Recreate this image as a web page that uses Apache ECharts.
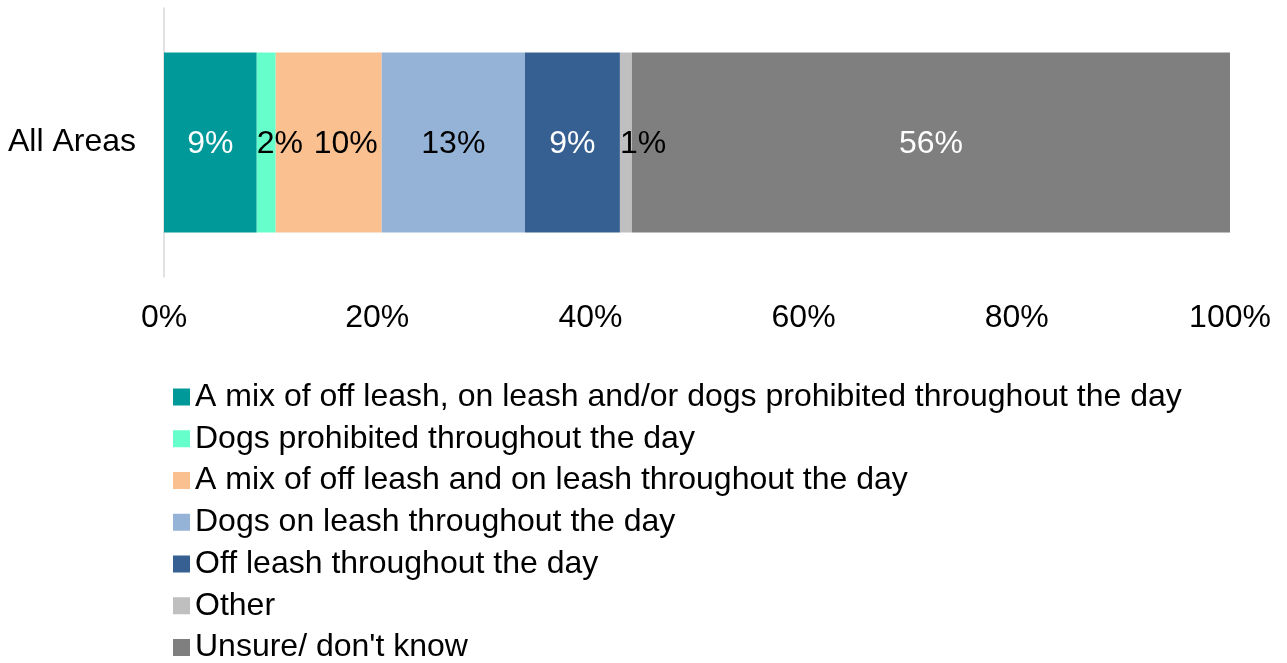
<!DOCTYPE html>
<html>
<head>
<meta charset="utf-8">
<script src="https://cdn.jsdelivr.net/npm/echarts@6/dist/echarts.min.js"></script>
<style>html,body{margin:0;padding:0;background:#fff}#c{width:1287px;height:663px}</style>
</head>
<body>
<div id="c"></div>
<script>
const categories = ['All Areas'];
const seriesNames = [
  'A mix of off leash, on leash and/or dogs prohibited throughout the day',
  'Dogs prohibited throughout the day',
  'A mix of off leash and on leash throughout the day',
  'Dogs on leash throughout the day',
  'Off leash throughout the day',
  'Other',
  "Unsure/ don't know"
];
const mixAll = [8.70];
const prohibited = [1.78];
const mixOffOn = [9.94];
const onLeash = [13.44];
const offLeash = [8.91];
const other = [1.13];
const unsure = [56.10];
const xTicks = [0, 20, 40, 60, 80, 100];

const values = [mixAll, prohibited, mixOffOn, onLeash, offLeash, other, unsure];
const colors = ['#009999', '#66FFCC', '#FAC090', '#95B3D7', '#366092', '#BFBFBF', '#7F7F7F'];
const labelColors = ['#fff', '#000', '#000', '#000', '#fff', '#000', '#fff'];
const labelPos = ['inside', 'insideLeft', 'inside', 'inside', 'inside', 'insideLeft', 'inside'];
const labelOffset = [[0,2],[0,2],[17,2],[0,2],[0,2],[0,2],[0,2]];
const FONT = '"Liberation Sans", Arial, sans-serif';
const FS = 32;

const chart = echarts.init(document.getElementById('c'));
chart.setOption({
  animation: false,
  textStyle: { fontFamily: FONT },
  grid: { left: 164, right: 57, top: 8, bottom: 386, containLabel: false },
  xAxis: {
    type: 'value', min: 0, max: 100, interval: 20,
    axisLine: { show: false }, axisTick: { show: false }, splitLine: { show: false },
    axisLabel: { fontSize: FS, color: '#000', fontFamily: FONT, margin: 25,
      formatter: v => xTicks.includes(v) ? v + '%' : '' }
  },
  yAxis: {
    type: 'category', data: categories,
    axisLine: { show: true, lineStyle: { color: '#D9D9D9', width: 1.5 } },
    axisTick: { show: false },
    axisLabel: { fontSize: FS, color: '#000', fontFamily: FONT, margin: 28, padding: [5, 0, 0, 0] }
  },
  legend: {
    orient: 'vertical', left: 173, top: 381, height: 300, padding: 0,
    itemWidth: 17, itemHeight: 17, itemGap: 9.75, icon: 'rect',
    textStyle: { fontSize: FS, color: '#000', fontFamily: FONT },
    data: seriesNames
  },
  series: seriesNames.map((name, i) => ({
    name, type: 'bar', stack: 'total', barWidth: 180,
    data: values[i],
    itemStyle: { color: colors[i] },
    label: {
      show: true, position: labelPos[i], distance: 0, offset: labelOffset[i],
      fontSize: FS, color: labelColors[i], fontFamily: FONT,
      formatter: p => Math.round(p.value) + '%'
    }
  }))
});
</script>
</body>
</html>
